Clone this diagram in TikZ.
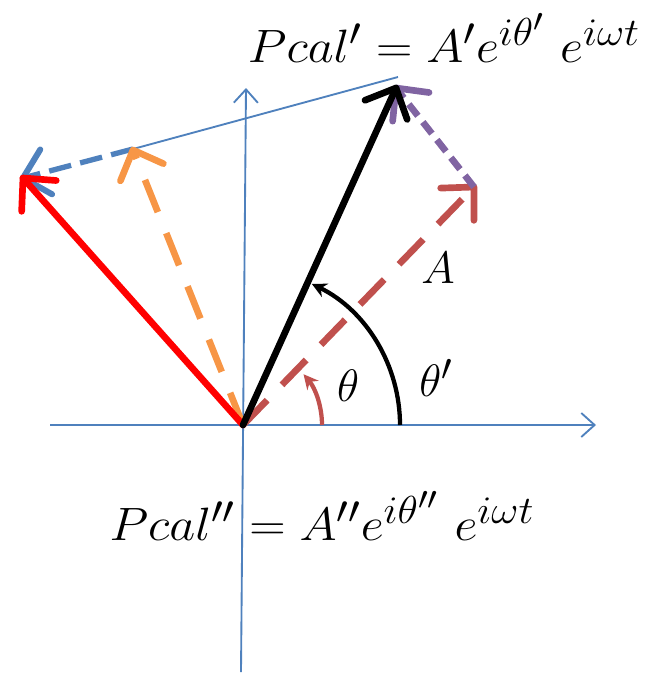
\documentclass[tikz,border=0pt]{standalone}
\usetikzlibrary{arrows.meta,calc}
\definecolor{offblue}{HTML}{4F81BD}
\definecolor{offred}{HTML}{C0504D}
\definecolor{offpurple}{HTML}{8064A2}
\definecolor{offorange}{HTML}{F79646}
\newcommand{\vhead}[4]{\draw[#1, line width=#2, line cap=round, line join=round, solid] ($(#3)!25pt!44:(#4)$) -- (#3) -- ($(#3)!25pt!-44:(#4)$);}
\tikzset{
  axis/.style={draw=offblue, line width=1.4pt, -{Straight Barb[length=10pt,width=18pt,line width=1.4pt]}},
  shaft/.style={line width=5pt},
  anglearc/.style={line width=3.2pt, -{Stealth[length=11pt,width=11pt]}},
  lbl/.style={inner sep=0pt, font=\fontsize{24.88}{30}\selectfont},
  formula/.style={inner sep=0pt, font=\fontsize{24.88}{30}\selectfont}
}
\begin{document}
\begin{tikzpicture}[x=0.75pt, y=-0.75pt]
\useasboundingbox (0,0) rectangle (652,676);
% points
\coordinate (O) at (243,425);
\coordinate (xl) at (50,425);
\coordinate (xr) at (596,425);
\coordinate (yb) at (241,672);
\coordinate (yt) at (246,88);
\coordinate (P) at (396,88);
\coordinate (Pl) at (398,77);
\coordinate (Ta) at (474,187);
\coordinate (R) at (23,178);
\coordinate (Q) at (133,150);
\coordinate (B) at (133,149);
% axes
\draw[axis] (xl) -- (xr);
\draw[axis] (yb) -- (yt);
% thin blue line
\draw[offblue, line width=1.4pt] (Pl) -- (B);
% blue dashed arrow
\draw[offblue, shaft, line width=4pt, dash pattern=on 17pt off 7pt] (B) -- (R);
\vhead{offblue}{4.5pt}{R}{B}
% orange dashed
\draw[offorange, shaft, dash pattern=on 26pt off 17pt] (O) -- (Q);
\vhead{offorange}{5pt}{Q}{O}
% red solid
\draw[red, shaft, line cap=round] (O) -- (R);
\vhead{red}{5pt}{R}{O}
% red dashed A
\draw[offred, shaft, dash pattern=on 26pt off 16pt] (O) -- (Ta);
\vhead{offred}{5pt}{Ta}{O}
% purple dashed
\draw[offpurple, shaft, dash pattern=on 11pt off 6pt] (Ta) -- (P);
\vhead{offpurple}{5pt}{P}{Ta}
% black arrow
\draw[black, shaft, line cap=round] (O) -- (P);
\vhead{black}{5pt}{P}{O}
% angle arcs
\draw[black, anglearc] (400,425) arc[start angle=0, end angle=-64, radius=157];
\draw[offred, anglearc] (322,425) arc[start angle=0, end angle=-40, radius=79];
% labels
\node[lbl] (th) at (348,386) {\scalebox{1.37}{$\theta$}};
\node[lbl] (thp) at (436,378) {\scalebox{1.37}{$\theta'$}};
\node[lbl] (A) at (438,268) {\scalebox{1.37}{$A$}};
\node[formula] (f1) at (444,38) {\scalebox{1.52}[1.41]{$Pcal' = A'e^{i\theta'}\ e^{i\omega t}$}};
\node[formula] (f2) at (322,516) {\scalebox{1.52}[1.41]{$Pcal'' = A''e^{i\theta''}\ e^{i\omega t}$}};
\end{tikzpicture}
\end{document}
